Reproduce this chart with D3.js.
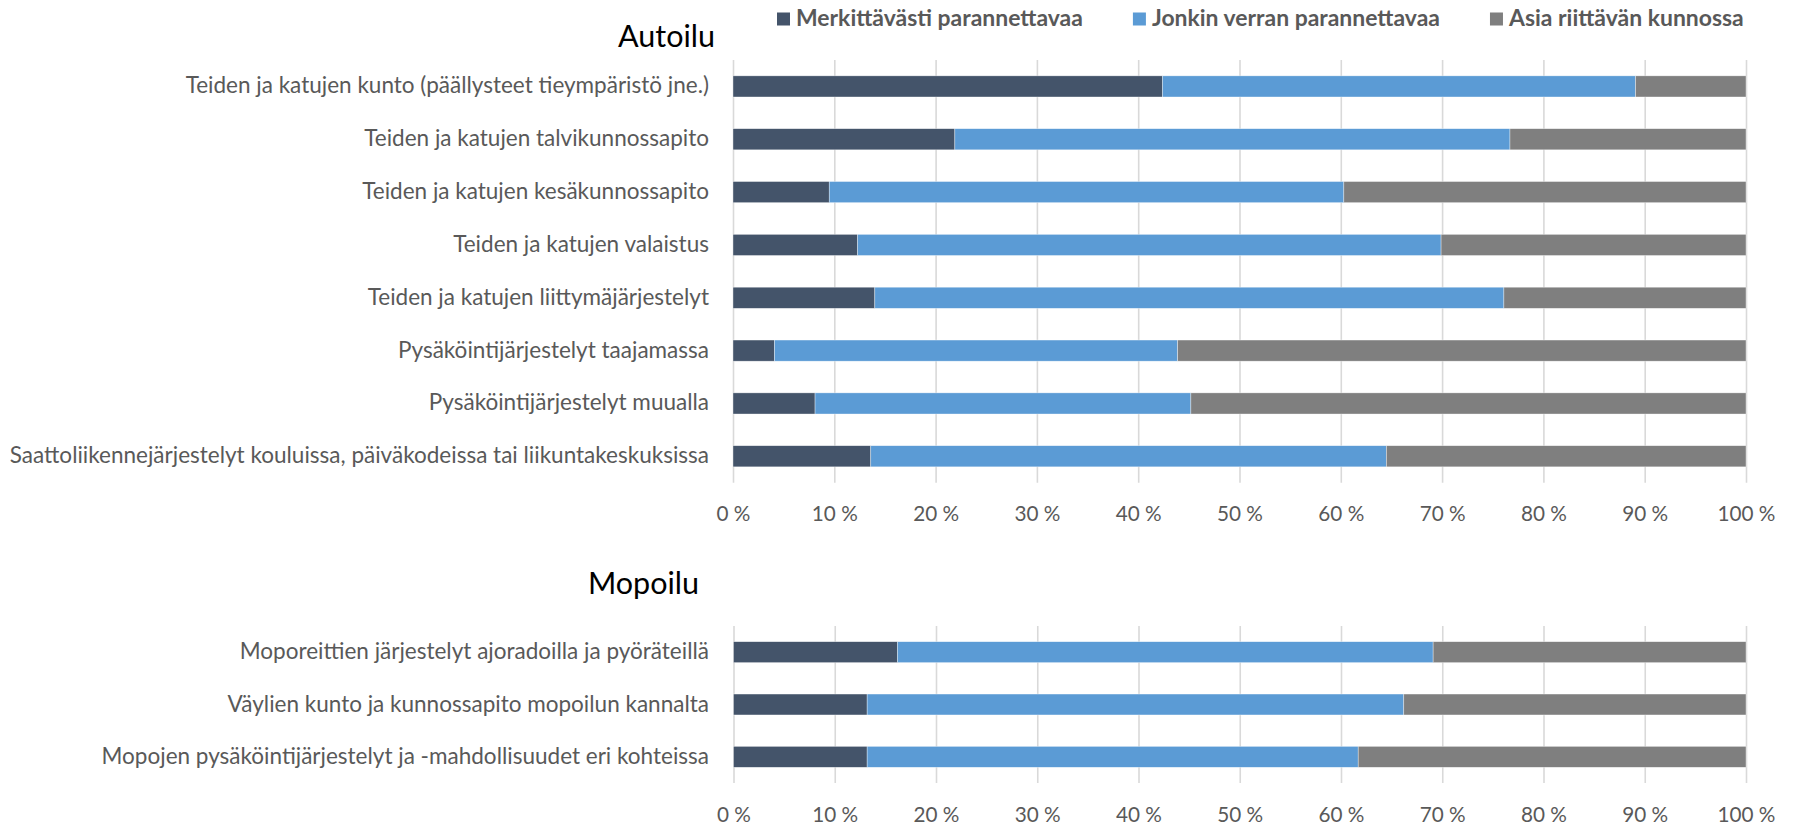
<!DOCTYPE html>
<html>
<head>
<meta charset="utf-8">
<script src="https://cdn.jsdelivr.net/npm/d3@7"></script>
<style>
  html, body { margin: 0; padding: 0; background: #ffffff; }
  svg { display: block; }
</style>
</head>
<body>
<svg id="chart" width="1793" height="824"></svg>
<script>
// ---------------- DATA ----------------
const seriesNames = ["Merkittävästi parannettavaa", "Jonkin verran parannettavaa", "Asia riittävän kunnossa"];

const autoTitle = "Autoilu";
const autoCategories = [
  "Teiden ja katujen kunto (päällysteet tieympäristö jne.)",
  "Teiden ja katujen talvikunnossapito",
  "Teiden ja katujen kesäkunnossapito",
  "Teiden ja katujen valaistus",
  "Teiden ja katujen liittymäjärjestelyt",
  "Pysäköintijärjestelyt taajamassa",
  "Pysäköintijärjestelyt muualla",
  "Saattoliikennejärjestelyt kouluissa, päiväkodeissa tai liikuntakeskuksissa"
];
const autoMerkittavasti = [42.4, 21.9, 9.5, 12.3, 14.0, 4.1, 8.1, 13.6];
const autoJonkin        = [46.7, 54.8, 50.8, 57.6, 62.1, 39.8, 37.1, 50.9];
const autoRiittava      = [10.9, 23.3, 39.7, 30.1, 23.9, 56.1, 54.8, 35.5];

const mopoTitle = "Mopoilu";
const mopoCategories = [
  "Moporeittien järjestelyt ajoradoilla ja pyöräteillä",
  "Väylien kunto ja kunnossapito mopoilun kannalta",
  "Mopojen pysäköintijärjestelyt ja -mahdollisuudet eri kohteissa"
];
const mopoMerkittavasti = [16.2, 13.2, 13.2];
const mopoJonkin        = [52.9, 53.0, 48.5];
const mopoRiittava      = [30.9, 33.8, 38.3];

const tickValues = [0, 10, 20, 30, 40, 50, 60, 70, 80, 90, 100];
const tickLabel = v => v + " %";

// ---------------- STYLE ----------------
const colors = ["#44546a", "#5b9bd5", "#7f7f7f"];
const FONT = "Lato, 'Open Sans', sans-serif";
const textGrey = "#595959";
const gridColor = "#d9d9d9";

const svg = d3.select("#chart");

// measure helper to size fonts like the reference
function fitSize(str, targetWidth, weight) {
  const t = svg.append("text")
    .attr("font-family", FONT)
    .attr("font-size", 100)
    .attr("font-weight", weight || "normal")
    .text(str);
  const w = t.node().getComputedTextLength();
  t.remove();
  return 100 * targetWidth / w;
}

const labelSize  = fitSize(autoCategories[7], 700);
const tickSize   = fitSize("100 %", 58);
const titleSize  = fitSize(autoTitle, 97);
const legendSize = fitSize(seriesNames[0], 287, "bold");

const keys = ["m", "j", "r"];

function buildRows(cats, a, b, c) {
  return cats.map((cat, i) => ({ cat: cat, m: a[i], j: b[i], r: c[i] }));
}

function drawPanel(opts) {
  const { rows, title, x0, x1, y0, y1, titleRight, titleBaseline } = opts;
  const x = d3.scaleLinear().domain([0, 100]).range([x0, x1]);
  const y = d3.scaleBand()
    .domain(rows.map(d => d.cat))
    .range([y0, y1])
    .paddingInner(0.6)
    .paddingOuter(0.3);

  const g = svg.append("g");

  // gridlines + tick labels through an axis
  const axis = d3.axisBottom(x)
    .tickValues(tickValues)
    .tickFormat(tickLabel)
    .tickSize(-(y1 - y0))
    .tickSizeOuter(0);
  const ax = g.append("g")
    .attr("transform", `translate(0,${y1})`)
    .call(axis);
  ax.select(".domain").remove();
  ax.selectAll(".tick line")
    .attr("stroke", gridColor)
    .attr("stroke-width", 1.6);
  ax.selectAll(".tick text")
    .attr("y", 38.5)
    .attr("dy", null)
    .attr("fill", textGrey)
    .attr("font-family", FONT)
    .attr("font-size", tickSize);

  // stacked bars
  const stacked = d3.stack().keys(keys)(rows);
  g.append("g").selectAll("g")
    .data(stacked)
    .join("g")
    .attr("fill", (d, i) => colors[i])
    .selectAll("rect")
    .data(d => d)
    .join("rect")
    .attr("x", d => x(d[0]))
    .attr("width", d => x(d[1]) - x(d[0]))
    .attr("y", d => y(d.data.cat))
    .attr("height", y.bandwidth())
    .attr("stroke", "#ffffff")
    .attr("stroke-width", 0.6)
    .attr("stroke-opacity", 0.6);

  // category labels
  g.append("g").selectAll("text")
    .data(rows)
    .join("text")
    .attr("x", 709)
    .attr("y", d => y(d.cat) + y.bandwidth() / 2 + 7)
    .attr("text-anchor", "end")
    .attr("fill", textGrey)
    .attr("font-family", FONT)
    .attr("font-size", labelSize)
    .text(d => d.cat);

  // title
  g.append("text")
    .attr("x", titleRight)
    .attr("y", titleBaseline)
    .attr("text-anchor", "end")
    .attr("fill", "#000000")
    .attr("font-family", FONT)
    .attr("font-size", titleSize)
    .text(title);
}

drawPanel({
  rows: buildRows(autoCategories, autoMerkittavasti, autoJonkin, autoRiittava),
  title: autoTitle,
  x0: 733, x1: 1746, y0: 60, y1: 482.7,
  titleRight: 715, titleBaseline: 46.5
});

drawPanel({
  rows: buildRows(mopoCategories, mopoMerkittavasti, mopoJonkin, mopoRiittava),
  title: mopoTitle,
  x0: 733.5, x1: 1746, y0: 626, y1: 783,
  titleRight: 699, titleBaseline: 593.5
});

// legend
const legend = svg.append("g");
let lx = 777;
seriesNames.forEach((name, i) => {
  legend.append("rect")
    .attr("x", lx).attr("y", 12.5)
    .attr("width", 13).attr("height", 13)
    .attr("fill", colors[i]);
  const t = legend.append("text")
    .attr("x", lx + 19)
    .attr("y", 26)
    .attr("fill", textGrey)
    .attr("font-family", FONT)
    .attr("font-weight", "bold")
    .attr("font-size", legendSize)
    .text(name);
  lx = lx + 19 + t.node().getComputedTextLength() + 50;
});
</script>
</body>
</html>
